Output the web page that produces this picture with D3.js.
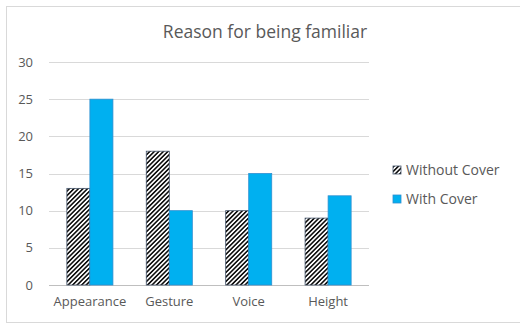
<!DOCTYPE html>
<html>
<head>
<meta charset="utf-8">
<script src="https://cdn.jsdelivr.net/npm/d3@7"></script>
<style>
body{margin:0;background:#fff;}
text{font-family:"Open Sans",sans-serif;fill:#595959;}
</style>
</head>
<body>
<script>
var w=520;
var h=326;

var categories=["Appearance","Gesture","Voice","Height"];
var seriesNames=["Without Cover","With Cover"];
var withoutCover=[13,18,10,9];
var withCover=[25,10,15,12];
var yTicks=[0,5,10,15,20,25,30];

var x0=49, x1=369, yTop=62, yBot=285;

var svg=d3.select("body").append("svg")
    .attr("width",w)
    .attr("height",h);

var defs=svg.append("defs");
var pat=defs.append("pattern")
    .attr("id","hatch")
    .attr("patternUnits","userSpaceOnUse")
    .attr("width",3.2)
    .attr("height",3.2)
    .attr("patternTransform","rotate(45)");
pat.append("rect").attr("width",3.2).attr("height",3.2).attr("fill","#fff");
pat.append("rect").attr("width",1.6).attr("height",3.2).attr("fill","#111");

// outer border
svg.append("rect")
    .attr("x",6.5).attr("y",6.5)
    .attr("width",530).attr("height",316)
    .attr("fill","none")
    .attr("stroke","#d9d9d9");

var xScale=d3.scaleBand()
    .domain(categories)
    .range([x0,x1])
    .paddingInner(0.42)
    .paddingOuter(0.225);

var xSub=d3.scaleBand()
    .domain(seriesNames)
    .range([0,xScale.bandwidth()]);

var yScale=d3.scaleLinear()
    .domain([0,30])
    .range([yBot,yTop]);

// gridlines
svg.append("g").selectAll("line")
    .data(yTicks)
    .enter()
    .append("line")
    .attr("x1",x0).attr("x2",x1)
    .attr("y1",function(d){return Math.round(yScale(d))+0.5;})
    .attr("y2",function(d){return Math.round(yScale(d))+0.5;})
    .attr("stroke",function(d){return d===0?"#bfbfbf":"#d9d9d9";});

// y labels
svg.append("g").selectAll("text")
    .data(yTicks)
    .enter()
    .append("text")
    .attr("x",33)
    .attr("y",function(d){return yScale(d);})
    .attr("dy","0.35em")
    .attr("text-anchor","end")
    .attr("font-size",13)
    .text(function(d){return d;});

var rows=categories.map(function(c,i){
    return {cat:c,vals:[withoutCover[i],withCover[i]]};
});

var groups=svg.append("g").selectAll("g")
    .data(rows)
    .enter()
    .append("g")
    .attr("transform",function(d){return "translate("+xScale(d.cat)+",0)";});

groups.selectAll("rect")
    .data(function(d){return d.vals.map(function(v,i){return {s:seriesNames[i],v:v};});})
    .enter()
    .append("rect")
    .attr("x",function(d){return xSub(d.s);})
    .attr("y",function(d){return yScale(d.v);})
    .attr("width",xSub.bandwidth())
    .attr("height",function(d){return yBot-yScale(d.v);})
    .attr("fill",function(d){return d.s===seriesNames[0]?"url(#hatch)":"#00b0f0";})
    .attr("stroke",function(d){return d.s===seriesNames[0]?"#44546a":"#2e8fd0";})
    .attr("stroke-width",0.8);

// x labels
svg.append("g").selectAll("text")
    .data(categories)
    .enter()
    .append("text")
    .attr("x",function(d){return xScale(d)+xScale.bandwidth()/2;})
    .attr("y",306)
    .attr("text-anchor","middle")
    .attr("font-size",13)
    .text(function(d){return d;});

// title
svg.append("text")
    .attr("x",265)
    .attr("y",38)
    .attr("text-anchor","middle")
    .attr("font-size",17.5)
    .text("Reason for being familiar");

// legend
var legend=svg.append("g").selectAll("g")
    .data(seriesNames)
    .enter()
    .append("g")
    .attr("transform",function(d,i){return "translate(393,"+(166+i*29)+")";});

legend.append("rect")
    .attr("width",8).attr("height",8)
    .attr("fill",function(d,i){return i===0?"url(#hatch)":"#00b0f0";})
    .attr("stroke",function(d,i){return i===0?"#44546a":"#2e8fd0";})
    .attr("stroke-width",0.8);

legend.append("text")
    .attr("x",13)
    .attr("y",4)
    .attr("dy","0.35em")
    .attr("font-size",14)
    .text(function(d){return d;});
</script>
</body>
</html>
